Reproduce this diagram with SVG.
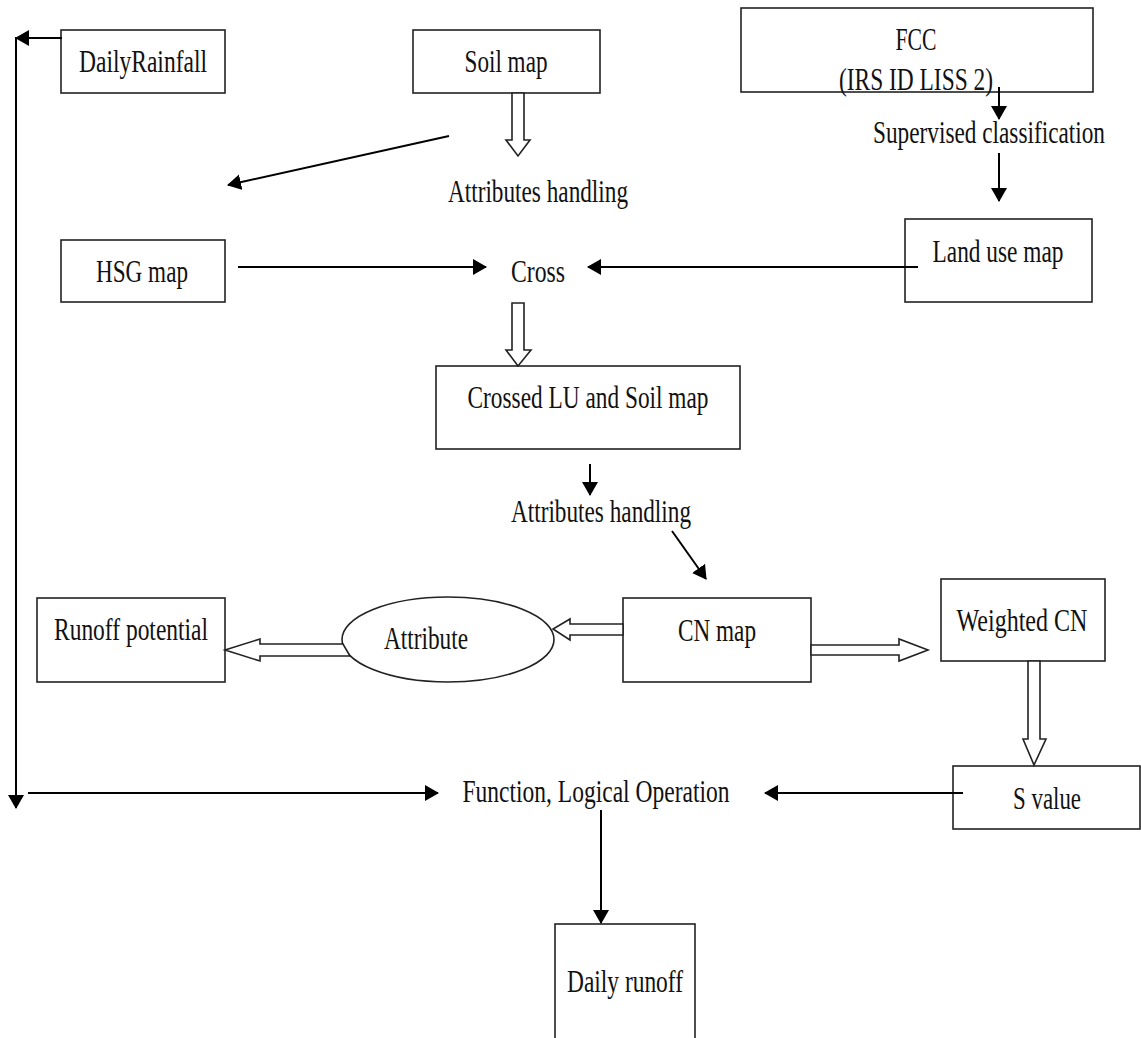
<svg xmlns="http://www.w3.org/2000/svg" width="1141" height="1038" viewBox="0 0 1141 1038">
<defs>
<style>
.box{fill:#fff;stroke:#222;stroke-width:1.6}
.t{font-family:"Liberation Serif","Times New Roman",serif;font-size:31px;fill:#111;text-anchor:middle}
.ln{stroke:#000;stroke-width:2;fill:none}
.ha{fill:#fff;stroke:#222;stroke-width:1.6;stroke-linejoin:miter}
</style>
<marker id="ah" markerUnits="userSpaceOnUse" markerWidth="14" markerHeight="16" refX="13" refY="8" orient="auto">
<path d="M0,0 L14,8 L0,16 Z" fill="#000"/>
</marker>
</defs>
<rect width="1141" height="1038" fill="#fff"/>

<g id="daily-rainfall"><rect class="box" x="61" y="30" width="164" height="63"/><text class="t" x="143" y="72" textLength="128" lengthAdjust="spacingAndGlyphs">DailyRainfall</text></g>
<g id="soil-map"><rect class="box" x="413" y="30" width="187" height="63"/><text class="t" x="506" y="72" textLength="83" lengthAdjust="spacingAndGlyphs">Soil map</text></g>
<g id="fcc"><rect class="box" x="741" y="8" width="352" height="84" style="fill:none"/><text class="t" x="916" y="50" textLength="41" lengthAdjust="spacingAndGlyphs">FCC</text><text class="t" x="916" y="90" textLength="154" lengthAdjust="spacingAndGlyphs">(IRS ID LISS 2)</text></g>
<g id="supervised"><text class="t" x="989" y="143" textLength="232" lengthAdjust="spacingAndGlyphs">Supervised classification</text></g>
<g id="attributes-handling-1"><text class="t" x="538" y="202" textLength="180" lengthAdjust="spacingAndGlyphs">Attributes handling</text></g>
<g id="hsg-map"><rect class="box" x="61" y="240" width="164" height="62"/><text class="t" x="142" y="282" textLength="92" lengthAdjust="spacingAndGlyphs">HSG map</text></g>
<g id="cross"><text class="t" x="538" y="282" textLength="54" lengthAdjust="spacingAndGlyphs">Cross</text></g>
<g id="land-use-map"><rect class="box" x="905" y="219" width="187" height="83"/><text class="t" x="998" y="262" textLength="131" lengthAdjust="spacingAndGlyphs">Land use map</text></g>
<g id="crossed-lu"><rect class="box" x="436" y="366" width="304" height="83"/><text class="t" x="588" y="408" textLength="241" lengthAdjust="spacingAndGlyphs">Crossed LU and Soil map</text></g>
<g id="attributes-handling-2"><text class="t" x="601" y="522" textLength="180" lengthAdjust="spacingAndGlyphs">Attributes handling</text></g>
<g id="cn-map"><rect class="box" x="623" y="598" width="188" height="84"/><text class="t" x="717" y="641" textLength="78" lengthAdjust="spacingAndGlyphs">CN map</text></g>
<g id="attribute"><ellipse class="box" cx="448" cy="639.5" rx="106" ry="42.5"/><text class="t" x="426" y="649" textLength="84" lengthAdjust="spacingAndGlyphs">Attribute</text></g>
<g id="runoff-potential"><rect class="box" x="37" y="598" width="188" height="84"/><text class="t" x="131" y="640" textLength="154" lengthAdjust="spacingAndGlyphs">Runoff potential</text></g>
<g id="weighted-cn"><rect class="box" x="941" y="579" width="164" height="82"/><text class="t" x="1022" y="631" textLength="131" lengthAdjust="spacingAndGlyphs">Weighted CN</text></g>
<g id="s-value"><rect class="box" x="953" y="766" width="187" height="63"/><text class="t" x="1047" y="809" textLength="68" lengthAdjust="spacingAndGlyphs">S value</text></g>
<g id="function"><text class="t" x="596" y="802" textLength="267" lengthAdjust="spacingAndGlyphs">Function, Logical Operation</text></g>
<g id="daily-runoff"><rect class="box" x="555" y="924" width="140" height="118"/><text class="t" x="625" y="992" textLength="116" lengthAdjust="spacingAndGlyphs">Daily runoff</text></g>

<g id="connectors">
<polygon class="ha" points="512,93 524,93 524,140 530,140 518,156 506,140 512,140"/>
<polygon class="ha" points="512,303 524,303 524,350 531,350 518,366 506,350 512,350"/>
<polygon class="ha" points="343,644 260,644 260,639 225,650 260,661 260,656 350,656"/>
<polygon class="ha" points="623,624 570,624 570,619 553,629 570,640 570,635 623,635"/>
<polygon class="ha" points="811,645 899,645 899,639 928,650 899,661 899,655 811,655"/>
<polygon class="ha" points="1028,661 1040,661 1040,739 1046,739 1034,765 1023,739 1028,739"/>
<line class="ln" x1="449" y1="136" x2="228" y2="185" marker-end="url(#ah)"/>
<line class="ln" x1="999" y1="87" x2="999" y2="119" marker-end="url(#ah)"/>
<line class="ln" x1="999" y1="153" x2="999" y2="201" marker-end="url(#ah)"/>
<line class="ln" x1="238" y1="267" x2="486" y2="267" marker-end="url(#ah)"/>
<line class="ln" x1="918" y1="267" x2="588" y2="267" marker-end="url(#ah)"/>
<line class="ln" x1="590" y1="464" x2="590" y2="495" marker-end="url(#ah)"/>
<line class="ln" x1="672" y1="531" x2="706" y2="579" marker-end="url(#ah)"/>
<line class="ln" x1="62" y1="38" x2="16" y2="38" marker-end="url(#ah)"/>
<line class="ln" x1="16" y1="37" x2="16" y2="808" marker-end="url(#ah)"/>
<line class="ln" x1="28" y1="793" x2="438" y2="793" marker-end="url(#ah)"/>
<line class="ln" x1="963" y1="793" x2="765" y2="793" marker-end="url(#ah)"/>
<line class="ln" x1="601" y1="810" x2="601" y2="923" marker-end="url(#ah)"/>
</g>
</svg>
